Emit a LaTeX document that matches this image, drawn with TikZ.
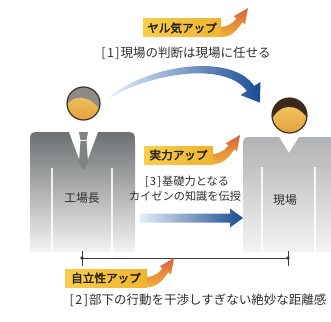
\documentclass[tikz,border=0pt]{standalone}
\usepackage{fontspec}
\newfontfamily\jp{Noto Sans CJK JP}
\newfontfamily\jpb[FakeBold=2.6]{Noto Sans CJK JP}
\usetikzlibrary{calc}

\definecolor{inkgray}{HTML}{2E2E2E}
\definecolor{badgeink}{HTML}{2A2016}
\definecolor{bodyTopL}{HTML}{6C7072}
\definecolor{bodyTopR}{HTML}{B0B2B3}
\definecolor{bodyBot}{HTML}{F4F4F4}
\definecolor{tiegray}{HTML}{7F8385}
\definecolor{faceTop}{HTML}{F6CD6C}
\definecolor{faceBot}{HTML}{E2A03C}
\definecolor{hairgray}{HTML}{8E8B86}
\definecolor{hairbrown}{HTML}{3B2A1C}
\definecolor{headline}{HTML}{3A3226}
\definecolor{arrowlight}{HTML}{E4EDF7}
\definecolor{arrowmid}{HTML}{5F8FCB}
\definecolor{arrowdark}{HTML}{1A4C94}
\definecolor{badgeleft}{HTML}{F7CE4C}
\definecolor{badgeright}{HTML}{EDB431}
\definecolor{badgebase}{HTML}{F0B23A}
\definecolor{badgetip}{HTML}{D8603C}
\definecolor{rulegray}{HTML}{3C3C3C}

% badge with a rising arrow: name, left, top, right, bottom, text
\newcommand\ubadge[6]{%
  \begin{scope}[shift={(#4,#5)}]
    \shade[top color=badgetip, bottom color=badgebase]
      (-10,0) -- (1,0) .. controls (11,0) and (16.3,-7.6) .. (21.3,-14.7)
      -- (24.1,-12.7) -- (27,-29) -- (12.7,-20.7) -- (15.5,-18.7)
      .. controls (11,-12.3) and (4,-9) .. (-10,-9) -- cycle;
  \end{scope}
  \shade[left color=badgeleft, right color=badgeright] (#2,#3) rectangle (#4,#5);
  \node[badgetext] (#1) at ({(#2+#4)/2},{(#3+#5)/2}) {#6};
}

\begin{document}
\begin{tikzpicture}[x=1pt,y=-1pt,
  lbl/.style={font=\jp\fontsize{12.5}{14}\selectfont, text=inkgray, inner sep=0pt},
  midlbl/.style={font=\jp\fontsize{11.2}{13}\selectfont, text=inkgray, inner sep=0pt},
  badgetext/.style={font=\jpb\fontsize{11.6}{13}\selectfont, text=badgeink, inner sep=0pt},
  seam/.style={white, line width=1.3pt, opacity=0.85},
  rule/.style={rulegray, line width=0.7pt}]
\useasboundingbox (0,0) rectangle (331,321);
\clip (0,0) rectangle (331,321);

% ---- factory manager (left figure) ----
\shade[top color=bodyTopL, bottom color=bodyBot]
  (30,252) -- (30,144) .. controls (30,132) and (30,132) .. (42,132)
  -- (123,132) .. controls (135,132) and (135,132) .. (135,144) -- (135,252) -- cycle;
\fill[white] (69,132) -- (98,132) -- (83.5,171) -- cycle;
\fill[tiegray] (79,132) -- (88,132) -- (86.5,140) -- (80.5,140) -- cycle;
\fill[tiegray] (80.5,141) -- (86.5,141) -- (88,162) -- (83.5,171) -- (79,162) -- cycle;
\draw[seam] (52,168) -- (52,252);
\draw[seam] (112,168) -- (112,252);
\begin{scope}
  \clip (83.5,103.5) circle[radius=16.5pt];
  \shade[top color=faceTop, bottom color=faceBot] (66,86) rectangle (101,121);
  \fill[hairgray] (66,106) .. controls (72,95) and (89,93) .. (101,111) -- (101,86) -- (66,86) -- cycle;
\end{scope}
\draw[headline, line width=1.2pt] (83.5,103.5) circle[radius=16.5pt];
\node[lbl, font=\jp\fontsize{11.8}{13}\selectfont] (boss) at (82,198) {工場長};

% ---- shop floor (right figure) ----
\shade[top color=bodyTopR, bottom color=bodyBot]
  (243,252) -- (243,149) .. controls (243,137) and (243,137) .. (255,137)
  -- (279,137) -- (289,153) -- (299,137) -- (324,137)
  .. controls (336,137) and (336,137) .. (336,149) -- (336,252) -- cycle;
\draw[seam] (262,167) -- (262,252);
\draw[seam] (315,167) -- (315,252);
\begin{scope}
  \clip (289.5,115.5) circle[radius=17.5pt];
  \shade[top color=faceTop, bottom color=faceBot] (271,97) rectangle (308,134);
  \fill[hairbrown] (271,121) .. controls (279,103) and (297,102) .. (308,119) -- (308,97) -- (271,97) -- cycle;
\end{scope}
\draw[headline, line width=1.2pt] (289.5,115.5) circle[radius=17.5pt];
\node[lbl, font=\jp\fontsize{11.8}{13}\selectfont] (floor) at (285,200) {現場};

% ---- curved arrow: leave decisions to the floor ----
\shade[left color=arrowlight, middle color=arrowmid, right color=arrowdark]
  (110,96.5) .. controls (150,64) and (232,53) .. (254.2,86)
  -- (260.5,81.9) -- (259.9,102.6) -- (240.5,95.1) -- (246.8,91)
  .. controls (226,62) and (155,72) .. (110,97.5) -- cycle;
\ubadge{motiv}{143}{19}{221}{37}{ヤル気アップ}
\node[lbl] (p1) at (186,53) {[\kern1.5pt 1\kern1.5pt]\kern1pt 現場の判断は現場に任せる};

% ---- straight arrow: passing on kaizen knowledge ----
\ubadge{skill}{144}{146}{213}{164}{実力アップ}
\node[midlbl] (p3a) at (187,182) {[\kern1.2pt 3\kern1.2pt]\kern1pt 基礎力となる};
\node[midlbl] (p3b) at (185,196) {カイゼンの知識を伝授};
\shade[left color=arrowlight, right color=arrowdark]
  (140,213.5) -- (230,213.5) -- (230,208.5) -- (243,218) -- (230,227.5)
  -- (230,222.5) -- (140,222.5) -- cycle;

% ---- distance rule ----
\coordinate (ruleL) at (82,258);
\coordinate (ruleR) at (288,258);
\draw[rule] (ruleL) -- (ruleR);
\draw[rulegray, line width=0.5pt] (82,250.5) -- (82,266);
\draw[rulegray, line width=0.5pt] (288,250.5) -- (288,266);
\fill[rulegray] (ruleL) circle[radius=1.9pt];
\fill[rulegray] (ruleR) circle[radius=1.9pt];
\ubadge{indep}{65}{269}{147}{287}{自立性アップ}
\node[lbl] (p2) at (198,300) {[\kern1.5pt 2\kern1.5pt]\kern1pt 部下の行動を干渉しすぎない絶妙な距離感};
\end{tikzpicture}
\end{document}
